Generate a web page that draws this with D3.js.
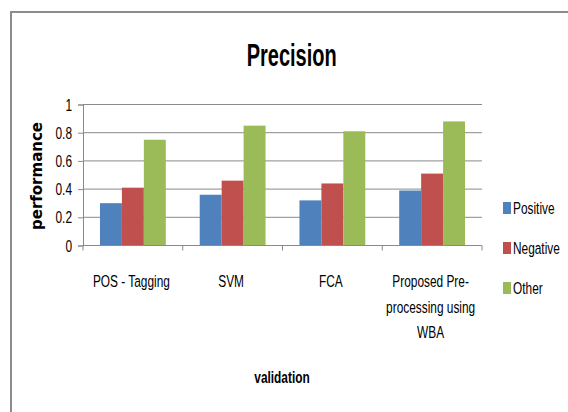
<!DOCTYPE html>
<html>
<head>
<meta charset="utf-8">
<script src="https://cdn.jsdelivr.net/npm/d3@7"></script>
<style>
  html, body { margin: 0; padding: 0; background: #fff; }
  svg { display: block; }
  text { font-family: "Liberation Sans", Arial, sans-serif; fill: #000; }
</style>
</head>
<body>
<svg id="chart" width="568" height="412"></svg>
<script>
// Precision scores per validation method
const categories = ["POS - Tagging", "SVM", "FCA", "Proposed Pre-processing using WBA"];
const categoryLines = [["POS - Tagging"], ["SVM"], ["FCA"], ["Proposed Pre-", "processing using", "WBA"]];
const seriesNames = ["Positive", "Negative", "Other"];
const positive = [0.30, 0.36, 0.32, 0.39];
const negative = [0.41, 0.46, 0.44, 0.51];
const other = [0.75, 0.85, 0.81, 0.88];
const yTicks = [0, 0.2, 0.4, 0.6, 0.8, 1];
const colors = ["#4F81BD", "#C0504D", "#9BBB59"];

const seriesValues = [positive, negative, other];
const rows = categories.map((c, i) => ({
  category: c,
  values: seriesNames.map((s, k) => ({ series: s, value: seriesValues[k][i] }))
}));

const svg = d3.select("#chart");
const NARROW = 0.72; // horizontal squeeze for a condensed look
const FS = 16.5;

// condensed text helper: positions at (x, y) then squeezes horizontally
function narrowText(parent, x, y, str, opts = {}) {
  return parent.append("text")
    .attr("transform", `translate(${x},${y}) scale(${NARROW},1)`)
    .attr("text-anchor", opts.anchor || "start")
    .attr("font-size", opts.size || FS)
    .attr("font-weight", opts.weight || "normal")
    .text(str);
}

// outer chart frame
svg.append("rect")
  .attr("x", 11).attr("y", 12).attr("width", 620).attr("height", 460)
  .attr("fill", "none").attr("stroke", "#8c8c8c").attr("stroke-width", 2);

const plot = { left: 83, right: 482, top: 104.5, bottom: 245.5 };

const x0 = d3.scaleBand().domain(categories).range([plot.left, plot.right]).padding(0);
const x1 = d3.scaleBand().domain(seriesNames).range([0, x0.bandwidth()])
  .paddingInner(0).paddingOuter(0.773);
const y = d3.scaleLinear().domain([0, 1]).range([plot.bottom, plot.top]);
const color = d3.scaleOrdinal().domain(seriesNames).range(colors);

// horizontal gridlines
svg.append("g").selectAll("line")
  .data(yTicks.filter(t => t > 0))
  .join("line")
  .attr("x1", plot.left).attr("x2", plot.right)
  .attr("y1", d => y(d)).attr("y2", d => y(d))
  .attr("stroke", "#8a8a8a").attr("stroke-width", 1);

// y axis line and ticks
const yAxis = svg.append("g")
  .attr("transform", `translate(${plot.left},0)`)
  .call(d3.axisLeft(y).tickValues(yTicks).tickSize(5).tickFormat(""));
yAxis.select(".domain").attr("stroke", "#8a8a8a");
yAxis.selectAll(".tick line").attr("stroke", "#8a8a8a");

// y tick labels
const fmt = d3.format("~g");
const yLabels = svg.append("g");
yTicks.forEach(t => narrowText(yLabels, 72, y(t) + 6, fmt(t), { anchor: "end" }));

// bars
svg.append("g").selectAll("g")
  .data(rows)
  .join("g")
  .attr("transform", d => `translate(${x0(d.category)},0)`)
  .selectAll("rect")
  .data(d => d.values)
  .join("rect")
  .attr("x", d => x1(d.series))
  .attr("width", x1.bandwidth())
  .attr("y", d => y(d.value))
  .attr("height", d => y(0) - y(d.value))
  .attr("fill", d => color(d.series));

// x axis: baseline plus boundary ticks
const xAxis = svg.append("g")
  .attr("transform", `translate(0,${plot.bottom})`);
xAxis.append("line")
  .attr("x1", plot.left).attr("x2", plot.right)
  .attr("stroke", "#8a8a8a");
const boundaries = categories.map(c => x0(c)).concat([plot.right]);
xAxis.selectAll("line.tick")
  .data(boundaries)
  .join("line")
  .attr("class", "tick")
  .attr("x1", d => d).attr("x2", d => d)
  .attr("y1", 0).attr("y2", 5)
  .attr("stroke", "#8a8a8a");

// category labels
const xLabels = svg.append("g");
categories.forEach((c, i) => {
  categoryLines[i].forEach((line, j) => {
    narrowText(xLabels, x0(c) + x0.bandwidth() / 2 - 1.5, 287 + j * 25.5, line, { anchor: "middle" });
  });
});

// title
svg.append("text")
  .attr("x", 291.7).attr("y", 66)
  .attr("text-anchor", "middle")
  .attr("font-size", 31).attr("font-weight", "bold")
  .attr("textLength", 90).attr("lengthAdjust", "spacingAndGlyphs")
  .text("Precision");

// axis titles
svg.append("text")
  .attr("transform", "translate(42,176) rotate(-90)")
  .attr("text-anchor", "middle")
  .style("font-family", "'DejaVu Sans', Verdana, sans-serif")
  .attr("font-size", 15).attr("font-weight", "bold")
  .text("performance");

narrowText(svg, 282, 383, "validation", { anchor: "middle", weight: "bold" });

// legend
const legend = svg.append("g").selectAll("g")
  .data(seriesNames)
  .join("g")
  .attr("transform", (d, i) => `translate(503,${208 + i * 40})`);
legend.append("rect")
  .attr("x", 0).attr("y", -6).attr("width", 8).attr("height", 12)
  .attr("fill", d => color(d));
legend.each(function (d) {
  narrowText(d3.select(this), 10, 6, d);
});
</script>
</body>
</html>
